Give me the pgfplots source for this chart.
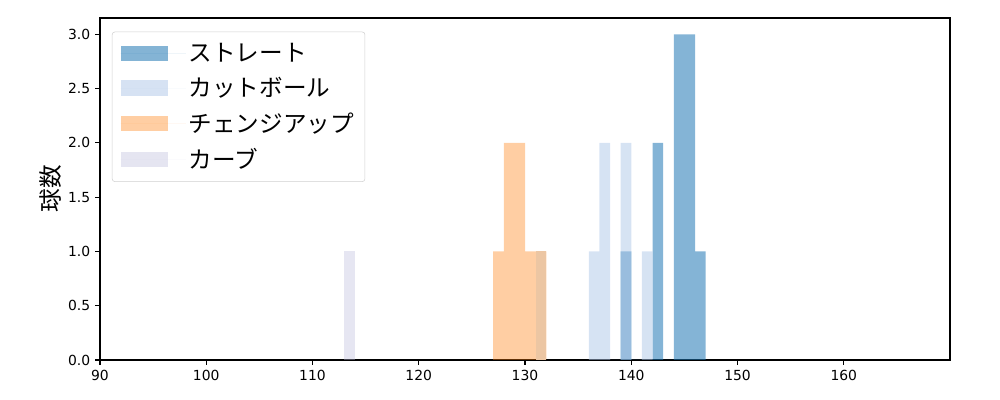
\documentclass[border=0pt]{standalone}
\usepackage{pgfplots}
\pgfplotsset{compat=1.18}
\usepackage{fontspec}
\setmainfont{DejaVu Sans}
\newfontfamily\jp{Noto Sans CJK JP}
\definecolor{cstr}{HTML}{1F77B4}
\definecolor{ccut}{HTML}{AEC7E8}
\definecolor{cchg}{HTML}{FF7F0E}
\definecolor{ccrv}{HTML}{BCBDDC}
\definecolor{cmix}{HTML}{ECC6A3}
\begin{document}
\begin{tikzpicture}
\useasboundingbox (-72pt,-28.8pt) rectangle (648pt,259.2pt);
\begin{axis}[
  at={(0,0)}, anchor=south west,
  width=612pt, height=246.24pt, scale only axis,
  xmin=90, xmax=170, ymin=0, ymax=3.15,
  xtick={90,100,...,160},
  ytick={0,0.5,...,3.0},
  yticklabel style={/pgf/number format/.cd, fixed, fixed zerofill, precision=1},
  /pgf/number format/assume math mode=true,
  ticklabel style={font=\fontsize{10}{12}\selectfont},
  tick align=outside, major tick length=3.5pt,
  xtick pos=bottom, ytick pos=left,
  axis line style={line width=0.8pt},
  tick style={line width=0.8pt, black},
  ylabel={\jp 球数}, ylabel style={font=\fontsize{17}{20}\selectfont, yshift=-2pt},
  legend cell align=left,
  legend style={at={(0.014,0.96)}, anchor=north west, draw=black!18, rounded corners=2pt,
    font=\jp\fontsize{17}{20}\selectfont, row sep=6pt, inner xsep=6pt, inner ysep=6pt},
  legend image code/.code={\fill[#1, sharp corners] (0pt,-5.5pt) rectangle (34pt,5.5pt); \path (0pt,0pt) -- (47pt,0pt);},
]
\addplot[ybar interval, fill=cstr, fill opacity=0.55, draw=none] coordinates {
 (139,1) (140,0) (141,0) (142,2) (143,0) (144,3) (145,3) (146,1) (147,1)};
\addlegendentry{ストレート}
\addplot[ybar interval, fill=ccut, fill opacity=0.5, draw=none] coordinates {
 (136,1) (137,2) (138,0) (139,2) (140,0) (141,1) (142,1)};
\addlegendentry{カットボール}
\addplot[ybar interval, fill=cchg, fill opacity=0.38, draw=none] coordinates {
 (127,1) (128,2) (129,2) (130,1) (131,1) (132,1)};
\addlegendentry{チェンジアップ}
\addplot[ybar interval, fill=ccrv, fill opacity=0.38, draw=none] coordinates {
 (113,1) (114,1)};
\addlegendentry{カーブ}
\addplot[ybar interval, fill=cmix, draw=none, forget plot] coordinates {
 (131,1) (132,1)};
\end{axis}
\end{tikzpicture}
\end{document}
